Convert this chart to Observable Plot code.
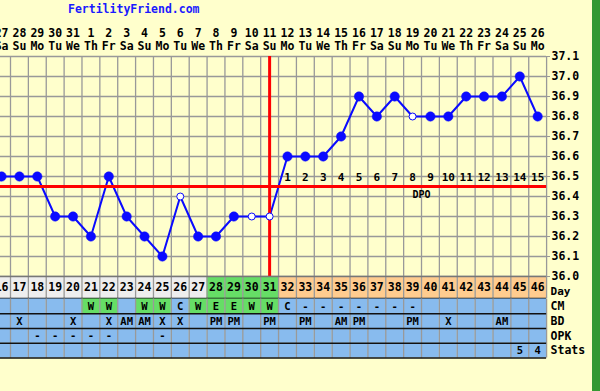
<!DOCTYPE html>
<html>
<head>
<meta charset="utf-8">
<script src="https://cdn.jsdelivr.net/npm/d3@7"></script>
<script src="https://cdn.jsdelivr.net/npm/@observablehq/plot@0.6"></script>
<style>
  html, body { margin: 0; padding: 0; background: #ffffcc; }
  #wrap { position: relative; width: 600px; height: 391px; background: #ffffcc; overflow: hidden; }
  #wrap svg { position: absolute; left: 0; background: none; }
  #title { position: absolute; left: 68px; top: 2px; font: bold 11.5px "DejaVu Sans Mono", monospace; color: #1a1aff; }
  #stripe { position: absolute; left: 592px; top: 0; width: 8px; height: 391px; background: #339933; }
</style>
</head>
<body>
<div id="wrap">
  <div id="title">FertilityFriend.com</div>
  <div id="stripe"></div>
</div>
<script>
// ---- data ----
const cycleDays = [16,17,18,19,20,21,22,23,24,25,26,27,28,29,30,31,32,33,34,35,36,37,38,39,40,41,42,43,44,45,46];
const dates = ["27","28","29","30","31","1","2","3","4","5","6","7","8","9","10","11","12","13","14","15","16","17","18","19","20","21","22","23","24","25","26"];
const weekdays = ["Sa","Su","Mo","Tu","We","Th","Fr","Sa","Su","Mo","Tu","We","Th","Fr","Sa","Su","Mo","Tu","We","Th","Fr","Sa","Su","Mo","Tu","We","Th","Fr","Sa","Su","Mo"];
const temps = [36.5,36.5,36.5,36.3,36.3,36.2,36.5,36.3,36.2,36.1,36.4,36.2,36.2,36.3,36.3,36.3,36.6,36.6,36.6,36.7,36.9,36.8,36.9,36.8,36.8,36.8,36.9,36.9,36.9,37.0,36.8];
const openDays = [26,30,31,39];
const coverline = 36.45;
const ovulationDay = 31;
const fertileDays = [28,29,30,31];
const dpoLabels = ["1","2","3","4","5","6","7","8","9","10","11","12","13","14","15"];
const yTicks = [36.0,36.1,36.2,36.3,36.4,36.5,36.6,36.7,36.8,36.9,37.0,37.1];
const cm    = ["","","","","","W","W","","W","W","C","W","E","E","W","W","C","-","-","-","-","-","-","-","","","","","","",""];
const bd    = ["","X","","","X","","X","AM","AM","X","X","","PM","PM","","PM","","PM","","AM","PM","","","PM","","X","","","AM","",""];
const opk   = ["","","-","-","-","-","-","","","-","","","","","","","","","","","","","","","","","","","","",""];
const stats = ["","","","","","","","","","","","","","","","","","","","","","","","","","","","","","5","4"];
const rowNames = ["CM","BD","OPK","Stats"];

// ---- styles ----
const BLUE = "#0a0aff", RED = "#ff0000", GRID = "#999999";
const ROWBLUE = "#88bbee", GREEN = "#66dd66", ORANGE = "#ffcc8f", GRAYCELL = "#eeeeee";
const FONT = {fontFamily: "'DejaVu Sans Mono', monospace", fontWeight: "bold", fontSize: "11px", background: "none", overflow: "visible"};
const colW = 17.87;
const xScale = {domain: [15.5, 46.5], range: [10 - colW, 10 + 30 * colW]};

const table = cycleDays.map((d, i) => ({
  day: d, temp: temps[i], date: dates[i], wd: weekdays[i], open: openDays.includes(d)
}));
const boundaries = cycleDays.map(d => d + 0.5);
const postDays = cycleDays.filter(d => d > ovulationDay);
const dpo = postDays.map((d, i) => ({day: d, label: dpoLabels[i]}));

const wrap = document.getElementById("wrap");

// ---- main temperature chart ----
const chart = Plot.plot({
  width: 600, height: 280,
  marginLeft: 0, marginRight: 54, marginTop: 56, marginBottom: 4,
  style: FONT,
  x: {...xScale, axis: null},
  y: {domain: [36.0, 37.1], axis: null},
  marks: [
    Plot.ruleX(boundaries, {y1: 36.0, y2: 37.1, stroke: GRID, strokeWidth: 1.3}),
    Plot.ruleY(yTicks, {x1: 15.5, x2: 46.5, stroke: GRID, strokeWidth: 1.3}),
    Plot.axisY({anchor: "right", ticks: yTicks, tickFormat: d3.format(".1f"), tickSize: 3, tickPadding: 2, stroke: GRID, fill: "black", fontSize: 11.5, label: null}),
    Plot.line(table, {x: "day", y: "temp", stroke: BLUE, strokeWidth: 2}),
    Plot.ruleY([coverline], {x1: 15.5, x2: 46.5, stroke: RED, strokeWidth: 3}),
    Plot.ruleX([ovulationDay], {y1: 36.0, y2: 37.1, stroke: RED, strokeWidth: 3}),
    Plot.dot(table.filter(d => !d.open), {x: "day", y: "temp", r: 4.7, fill: BLUE, stroke: BLUE, strokeWidth: 0.5}),
    Plot.dot(table.filter(d => d.open), {x: "day", y: "temp", r: 3.5, fill: "white", stroke: BLUE, strokeWidth: 1}),
    Plot.text(table, {x: "day", y: 37.1, dy: -23, text: "date", fill: "black", fontSize: 11.5}),
    Plot.text(table, {x: "day", y: 37.1, dy: -10, text: "wd", fill: "black", fontSize: 11.5}),
    Plot.text(dpo, {x: "day", y: coverline, dy: -9, text: "label", fill: "black", fontSize: 11}),
    Plot.text(["DPO"], {x: 39.5, y: coverline, dy: 8, text: d => d, fill: "black", fontSize: 10})
  ]
});
chart.style.top = "0px";
wrap.appendChild(chart);

// ---- day row ----
const dayColor = d => fertileDays.includes(d) ? GREEN : (d > ovulationDay ? ORANGE : GRAYCELL);
const dayPlot = Plot.plot({
  width: 600, height: 23,
  marginLeft: 0, marginRight: 54, marginTop: 0, marginBottom: 1,
  style: FONT,
  x: {...xScale, axis: null},
  y: {domain: [0, 1], range: [0, 22], axis: null},
  color: {type: "identity"},
  marks: [
    Plot.rect(table, {x1: d => d.day - 0.5, x2: d => d.day + 0.5, y1: 0, y2: 1, fill: d => dayColor(d.day)}),
    Plot.ruleX(boundaries, {y1: 0, y2: 1, stroke: GRID, strokeWidth: 1.3}),
    Plot.ruleY([0], {x1: 15.5, x2: 46.5, stroke: "#777", strokeWidth: 1.3}),
    Plot.ruleY([1], {x1: 15.5, x2: 46.5, stroke: "#111", strokeWidth: 1.3}),
    Plot.text(table, {x: "day", y: 0.5, text: d => String(d.day), fill: "black", fontSize: 11.5}),
    Plot.text(["Day"], {x: 46.5, y: 0.66, dx: 4, textAnchor: "start", text: d => d, fill: "black", fontSize: 11})
  ]
});
dayPlot.style.top = "276px";
wrap.appendChild(dayPlot);

// ---- CM / BD / OPK / Stats rows ----
const rowArrays = [cm, bd, opk, stats];
const cells = rowArrays.flatMap((arr, ri) => cycleDays.map((d, i) => ({
  day: d, ri, text: arr[i],
  fill: (ri === 0 && (arr[i] === "W" || arr[i] === "E")) ? GREEN : ROWBLUE
})));
const rowsPlot = Plot.plot({
  width: 600, height: 93,
  marginLeft: 0, marginRight: 54, marginTop: 0, marginBottom: 0,
  style: FONT,
  x: {...xScale, axis: null},
  y: {domain: [0, 4], range: [0.5, 59.5], axis: null},
  color: {type: "identity"},
  marks: [
    Plot.rect(cells, {x1: d => d.day - 0.5, x2: d => d.day + 0.5, y1: "ri", y2: d => d.ri + 1, fill: "fill"}),
    Plot.ruleX(boundaries, {y1: 0, y2: 4, stroke: GRID, strokeWidth: 1.3}),
    Plot.ruleY([1, 2, 3, 4], {x1: 15.5, x2: 46.5, stroke: "#111", strokeWidth: 1.3}),
    Plot.text(cells.filter(c => c.text), {x: "day", y: d => d.ri + 0.5, text: "text", fill: "black", fontSize: 10.5}),
    Plot.text(rowNames, {x: 46.5, y: (d, i) => i + 0.5, dx: 4, textAnchor: "start", text: d => d, fill: "black", fontSize: 11.5})
  ]
});
rowsPlot.style.top = "298px";
wrap.appendChild(rowsPlot);
</script>
</body>
</html>
